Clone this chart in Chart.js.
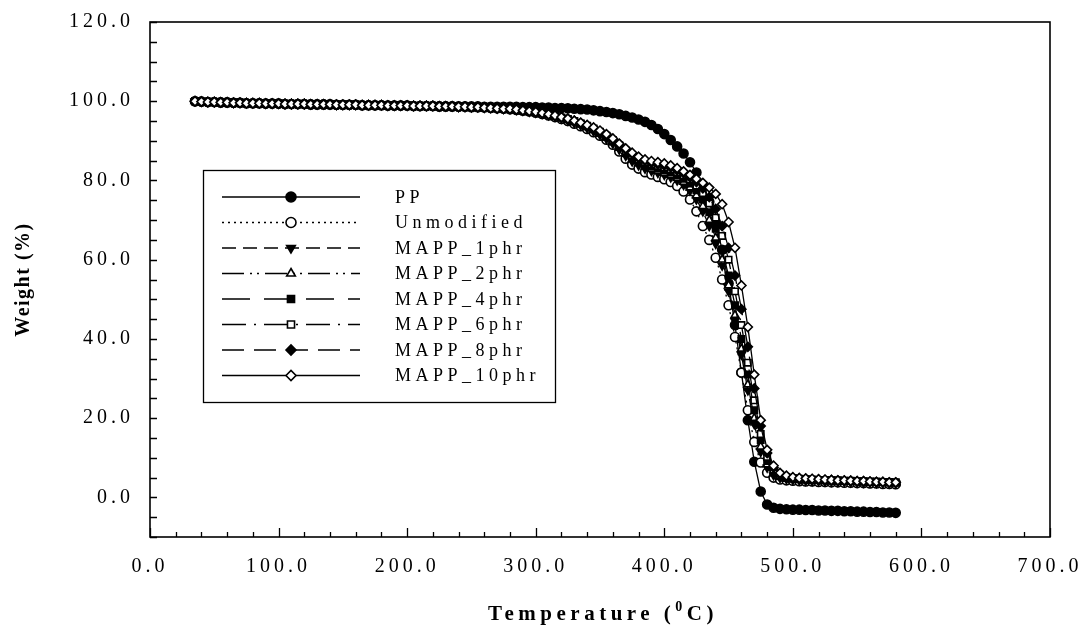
<!DOCTYPE html>
<html>
<head>
<meta charset="utf-8">
<script src="https://cdn.jsdelivr.net/npm/chart.js@4.4.0/dist/chart.umd.min.js"></script>
<style>
  html, body { margin: 0; background: #fff; }
</style>
</head>
<body>
<canvas id="tga" width="1085" height="635"></canvas>
<script>
// ===== DATA (TGA curves, weight % vs temperature) =====
const temps = [35,40,45,50,55,60,65,70,75,80,85,90,95,100,105,110,115,120,125,130,
  135,140,145,150,155,160,165,170,175,180,185,190,195,200,205,210,215,220,225,230,
  235,240,245,250,255,260,265,270,275,280,285,290,295,300,305,310,315,320,325,330,
  335,340,345,350,355,360,365,370,375,380,385,390,395,400,405,410,415,420,425,430,
  435,440,445,450,455,460,465,470,475,480,485,490,495,500,505,510,515,520,525,530,
  535,540,545,550,555,560,565,570,575,580];

const seriesNames = ['PP', 'Unmodified', 'MAPP_1phr', 'MAPP_2phr', 'MAPP_4phr', 'MAPP_6phr', 'MAPP_8phr', 'MAPP_10phr'];

const ppWeight = [
  100.0,99.9,99.8,99.8,99.7,99.7,99.6,99.6,99.5,99.5,
  99.5,99.4,99.4,99.4,99.3,99.3,99.3,99.3,99.2,99.2,
  99.2,99.2,99.1,99.1,99.1,99.1,99.0,99.0,99.0,99.0,
  98.9,98.9,98.9,98.9,98.8,98.8,98.8,98.8,98.7,98.7,
  98.7,98.7,98.7,98.7,98.7,98.6,98.6,98.6,98.6,
  98.6,98.6,98.5,98.5,98.5,98.4,98.4,98.3,98.3,98.2,
  98.1,98.0,97.9,97.7,97.5,97.3,97.0,96.7,96.3,95.9,
  95.4,94.8,94.0,93.0,91.7,90.2,88.6,86.8,84.6,82.0,
  78.8,74.6,69.2,62.5,54.0,43.5,31.5,19.5,9.0,1.5,
  -1.8,-2.6,-2.9,-3.0,-3.1,-3.1,-3.2,-3.2,-3.3,-3.3,
  -3.4,-3.4,-3.5,-3.5,-3.6,-3.6,-3.7,-3.7,-3.8,-3.8,
  -3.9];

const unmodWeight = [
  100.0,99.9,99.8,99.8,99.7,99.7,99.6,99.6,99.5,99.5,
  99.5,99.4,99.4,99.4,99.3,99.3,99.3,99.3,99.2,99.2,
  99.2,99.2,99.1,99.1,99.1,99.1,99.0,99.0,99.0,99.0,
  98.9,98.9,98.9,98.9,98.8,98.8,98.8,98.8,98.7,98.7,
  98.7,98.6,98.6,98.5,98.5,98.4,98.3,98.2,98.1,
  98.0,97.8,97.6,97.4,97.1,96.8,96.4,96.0,95.5,95.0,
  94.3,93.7,93.0,92.2,91.3,90.3,89.0,87.3,85.5,84.0,
  83.0,82.1,81.5,80.9,80.3,79.6,78.6,77.2,75.2,72.2,
  68.5,65.0,60.5,55.0,48.5,40.5,31.5,22.0,14.0,8.8,
  6.2,5.0,4.5,4.3,4.2,4.1,4.0,4.0,3.9,3.9,
  3.8,3.8,3.7,3.7,3.6,3.6,3.5,3.5,3.4,3.4,
  3.3];

const mapp1Weight = [
  100.0,99.9,99.8,99.8,99.7,99.7,99.6,99.6,99.5,99.5,
  99.5,99.4,99.4,99.4,99.3,99.3,99.3,99.3,99.2,99.2,
  99.2,99.2,99.1,99.1,99.1,99.1,99.0,99.0,99.0,99.0,
  98.9,98.9,98.9,98.9,98.8,98.8,98.8,98.8,98.7,98.7,
  98.7,98.6,98.6,98.5,98.5,98.4,98.3,98.2,98.1,
  98.0,97.8,97.6,97.4,97.1,96.8,96.5,96.1,95.6,95.1,
  94.5,93.9,93.2,92.4,91.5,90.5,89.3,87.8,86.2,84.8,
  83.8,83.0,82.4,81.9,81.4,80.8,80.0,78.9,77.4,75.2,
  72.2,68.5,64.0,58.5,52.0,44.5,36.0,27.0,18.5,11.5,
  7.5,5.6,4.9,4.6,4.4,4.3,4.2,4.1,4.1,4.0,
  4.0,3.9,3.9,3.8,3.8,3.7,3.7,3.6,3.6,3.5,
  3.5];

const mapp2Weight = [
  100.0,99.9,99.8,99.8,99.7,99.7,99.6,99.6,99.5,99.5,
  99.5,99.4,99.4,99.4,99.3,99.3,99.3,99.3,99.2,99.2,
  99.2,99.2,99.1,99.1,99.1,99.1,99.0,99.0,99.0,99.0,
  98.9,98.9,98.9,98.9,98.8,98.8,98.8,98.8,98.7,98.7,
  98.7,98.6,98.6,98.5,98.5,98.4,98.3,98.2,98.1,
  98.0,97.8,97.6,97.4,97.2,96.9,96.6,96.2,95.8,95.3,
  94.8,94.2,93.5,92.7,91.8,90.8,89.6,88.2,86.7,85.3,
  84.3,83.5,82.9,82.4,81.9,81.3,80.6,79.6,78.2,76.2,
  73.5,70.0,65.5,60.0,53.5,46.0,37.5,28.5,20.0,12.8,
  8.3,6.0,5.1,4.7,4.5,4.4,4.3,4.2,4.2,4.1,
  4.1,4.0,4.0,3.9,3.9,3.8,3.8,3.7,3.7,3.6,
  3.6];

const mapp4Weight = [
  100.0,99.9,99.8,99.8,99.7,99.7,99.6,99.6,99.5,99.5,
  99.5,99.4,99.4,99.4,99.3,99.3,99.3,99.3,99.2,99.2,
  99.2,99.2,99.1,99.1,99.1,99.1,99.0,99.0,99.0,99.0,
  98.9,98.9,98.9,98.9,98.8,98.8,98.8,98.8,98.7,98.7,
  98.7,98.6,98.6,98.5,98.5,98.4,98.3,98.2,98.1,
  98.0,97.8,97.6,97.4,97.2,96.9,96.6,96.2,95.8,95.4,
  94.9,94.3,93.6,92.9,92.0,91.0,89.9,88.5,87.1,85.8,
  84.8,84.0,83.5,83.0,82.6,82.0,81.3,80.4,79.2,77.5,
  75.2,72.0,67.8,62.5,56.0,48.5,40.0,31.0,22.0,14.5,
  9.2,6.5,5.4,4.9,4.7,4.6,4.5,4.4,4.3,4.3,
  4.2,4.2,4.1,4.1,4.0,4.0,3.9,3.9,3.8,3.8,
  3.7];

const mapp6Weight = [
  100.0,99.9,99.8,99.8,99.7,99.7,99.6,99.6,99.5,99.5,
  99.5,99.4,99.4,99.4,99.3,99.3,99.3,99.3,99.2,99.2,
  99.2,99.2,99.1,99.1,99.1,99.1,99.0,99.0,99.0,99.0,
  98.9,98.9,98.9,98.9,98.8,98.8,98.8,98.8,98.7,98.7,
  98.7,98.6,98.6,98.5,98.5,98.4,98.3,98.2,98.1,
  98.1,97.9,97.7,97.5,97.3,97.0,96.7,96.3,95.9,95.5,
  95.0,94.4,93.8,93.1,92.3,91.3,90.2,88.9,87.5,86.3,
  85.3,84.6,84.1,83.7,83.3,82.8,82.1,81.3,80.2,78.7,
  76.8,74.2,70.6,66.0,60.0,52.0,43.5,34.0,24.5,16.0,
  10.2,7.0,5.7,5.1,4.9,4.7,4.6,4.5,4.4,4.4,
  4.3,4.3,4.2,4.2,4.1,4.1,4.0,4.0,3.9,3.9,
  3.8];

const mapp8Weight = [
  100.0,99.9,99.8,99.8,99.7,99.7,99.6,99.6,99.5,99.5,
  99.5,99.4,99.4,99.4,99.3,99.3,99.3,99.3,99.2,99.2,
  99.2,99.2,99.1,99.1,99.1,99.1,99.0,99.0,99.0,99.0,
  98.9,98.9,98.9,98.9,98.8,98.8,98.8,98.8,98.7,98.7,
  98.7,98.6,98.6,98.5,98.5,98.4,98.3,98.2,98.1,
  98.1,97.9,97.7,97.5,97.3,97.0,96.7,96.4,96.0,95.6,
  95.1,94.5,93.9,93.2,92.4,91.5,90.4,89.1,87.8,86.7,
  85.7,85.0,84.5,84.1,83.8,83.3,82.6,81.8,80.8,79.6,
  78.0,75.8,72.8,68.5,63.0,56.0,47.5,38.0,27.5,18.0,
  11.2,7.5,5.9,5.2,4.9,4.8,4.7,4.6,4.5,4.4,
  4.4,4.3,4.2,4.2,4.1,4.1,4.0,3.9,3.9,3.8,
  3.8];

const mapp10Weight = [
  100.0,99.9,99.8,99.8,99.7,99.7,99.6,99.6,99.5,99.5,
  99.5,99.4,99.4,99.4,99.3,99.3,99.3,99.3,99.2,99.2,
  99.2,99.2,99.1,99.1,99.1,99.1,99.0,99.0,99.0,99.0,
  98.9,98.9,98.9,98.9,98.8,98.8,98.8,98.8,98.7,98.7,
  98.7,98.6,98.6,98.5,98.5,98.4,98.3,98.2,98.1,
  98.1,97.9,97.7,97.5,97.3,97.0,96.7,96.4,96.0,95.6,
  95.1,94.6,94.0,93.4,92.6,91.7,90.6,89.3,88.1,87.0,
  86.0,85.3,84.9,84.6,84.3,83.8,83.1,82.3,81.4,80.4,
  79.4,78.2,76.6,74.0,69.5,63.0,53.5,43.0,31.0,19.5,
  12.0,8.0,6.2,5.5,5.1,4.9,4.8,4.7,4.6,4.5,
  4.4,4.3,4.3,4.2,4.1,4.1,4.0,3.9,3.9,3.8,
  3.8];

const xTicks = [0, 100, 200, 300, 400, 500, 600, 700];
const yTicks = [0, 20, 40, 60, 80, 100, 120];

// ===== STYLES =====
const weights = [ppWeight, unmodWeight, mapp1Weight, mapp2Weight, mapp4Weight, mapp6Weight, mapp8Weight, mapp10Weight];
const dashes = [[], [2, 4], [14, 7], [22, 6, 2, 5, 2, 6], [28, 14], [24, 8, 2, 8], [22, 10], []];
const markers = ['circle', 'circle', 'triangle', 'triangle', 'rect', 'rect', 'rectRot', 'rectRot'];
const markerTurn = [0, 0, 180, 0, 0, 0, 0, 0];
const markerFill = ['#000', '#fff', '#000', '#fff', '#000', '#fff', '#000', '#fff'];
const serif = "'Liberation Serif', 'Times New Roman', serif";

// frame + inward ticks + axis titles
const frameTicks = {
  id: 'frameTicks',
  beforeDraw(chart) { chart.ctx.letterSpacing = '4px'; },
  afterDraw(chart) {
    const { ctx, chartArea: a, scales: { x, y } } = chart;
    ctx.save();
    ctx.strokeStyle = '#000';
    ctx.lineWidth = 1.6;
    ctx.strokeRect(a.left, a.top, a.right - a.left, a.bottom - a.top);
    ctx.lineWidth = 1.3;
    ctx.beginPath();
    for (let v = 0; v <= 700; v += 20) {
      const px = Math.round(x.getPixelForValue(v)) + 0.5;
      const len = v % 100 === 0 ? 9 : 5;
      ctx.moveTo(px, a.bottom); ctx.lineTo(px, a.bottom - len);
    }
    for (let v = -10; v <= 120; v += 5) {
      const py = Math.round(y.getPixelForValue(v)) + 0.5;
      ctx.moveTo(a.left, py); ctx.lineTo(a.left + 7, py);
    }
    ctx.stroke();

    // y title
    ctx.fillStyle = '#000';
    ctx.letterSpacing = '1.5px';
    ctx.font = `bold 20px ${serif}`;
    ctx.textAlign = 'center';
    ctx.textBaseline = 'middle';
    ctx.save();
    ctx.translate(24, (a.top + a.bottom) / 2);
    ctx.rotate(-Math.PI / 2);
    ctx.fillText('Weight (%)', 0, 0);
    ctx.restore();

    // x title with superscript 0
    ctx.letterSpacing = '4.5px';
    ctx.textAlign = 'left';
    ctx.textBaseline = 'alphabetic';
    const big = `bold 21px ${serif}`, small = `bold 14px ${serif}`;
    ctx.font = big; const w1 = ctx.measureText('Temperature (').width;
    ctx.font = small; const w2 = ctx.measureText('0').width;
    ctx.font = big; const w3 = ctx.measureText('C)').width;
    let tx = (a.left + a.right) / 2 - (w1 + w2 + w3) / 2 + 3;
    const base = 620;
    ctx.font = big; ctx.fillText('Temperature (', tx, base); tx += w1;
    ctx.font = small; ctx.fillText('0', tx, base - 9); tx += w2;
    ctx.font = big; ctx.fillText('C)', tx, base);
    ctx.restore();
  }
};

// boxed legend inside the plot
const boxLegend = {
  id: 'boxLegend',
  afterDraw(chart, args, o) {
    const ctx = chart.ctx;
    ctx.save();
    ctx.strokeStyle = '#000';
    ctx.lineWidth = 1.3;
    ctx.strokeRect(o.left + 0.5, o.top + 0.5, o.width, o.height);
    chart.data.datasets.forEach((ds, i) => {
      const yy = o.top + o.firstRow + i * o.rowGap;
      ctx.setLineDash(ds.borderDash);
      ctx.lineWidth = ds.borderWidth;
      ctx.beginPath();
      ctx.moveTo(o.lineX1, yy);
      ctx.lineTo(o.lineX2, yy);
      ctx.stroke();
      ctx.setLineDash([]);
      ctx.fillStyle = ds.pointBackgroundColor;
      ctx.lineWidth = ds.pointBorderWidth;
      Chart.helpers.drawPoint(ctx, { pointStyle: ds.pointStyle, rotation: ds.pointRotation, radius: o.markerR, borderWidth: ds.pointBorderWidth }, (o.lineX1 + o.lineX2) / 2, yy);
      ctx.fillStyle = '#000';
      ctx.font = `18px ${serif}`;
      ctx.letterSpacing = '4.5px';
      ctx.textAlign = 'left';
      ctx.textBaseline = 'middle';
      ctx.fillText(ds.label, o.textX, yy + 1);
    });
    ctx.restore();
  }
};

const datasets = seriesNames.map((name, i) => ({
  label: name,
  data: temps.map((t, k) => ({ x: t, y: weights[i][k] })),
  showLine: true,
  borderColor: '#000',
  borderWidth: 1.3,
  borderDash: dashes[i],
  pointStyle: markers[i],
  pointRotation: markerTurn[i],
  pointRadius: 4.5,
  pointBorderWidth: 1.6,
  pointBorderColor: '#000',
  pointBackgroundColor: markerFill[i],
  order: 7 - i
}));

const noOverflow = s => { s.paddingTop = 0; s.paddingBottom = 0; s.paddingLeft = 0; s.paddingRight = 0; };

new Chart(document.getElementById('tga'), {
  type: 'scatter',
  data: { datasets },
  options: {
    responsive: false,
    animation: false,
    devicePixelRatio: 1,
    layout: { padding: { top: 22, right: 35, left: 0, bottom: 0 } },
    plugins: {
      legend: { display: false },
      tooltip: { enabled: false },
      boxLegend: { left: 203, top: 170, width: 352, height: 232, firstRow: 27, rowGap: 25.5, lineX1: 222, lineX2: 360, textX: 395, markerR: 5 }
    },
    scales: {
      x: {
        type: 'linear', min: 0, max: 700,
        afterFit: s => { s.height = 98; noOverflow(s); },
        afterBuildTicks: s => { s.ticks = xTicks.map(v => ({ value: v })); },
        grid: { display: false, drawTicks: false },
        border: { display: false },
        ticks: { color: '#000', font: { family: serif, size: 20 }, padding: 18, autoSkip: false, maxRotation: 0, callback: v => Number(v).toFixed(1) }
      },
      y: {
        type: 'linear', min: -10, max: 120,
        afterFit: s => { s.width = 150; noOverflow(s); },
        afterBuildTicks: s => { s.ticks = yTicks.map(v => ({ value: v })); },
        grid: { display: false, drawTicks: false },
        border: { display: false },
        ticks: { color: '#000', font: { family: serif, size: 20 }, padding: 16, callback: v => Number(v).toFixed(1) }
      }
    }
  },
  plugins: [frameTicks, boxLegend]
});
</script>
</body>
</html>
